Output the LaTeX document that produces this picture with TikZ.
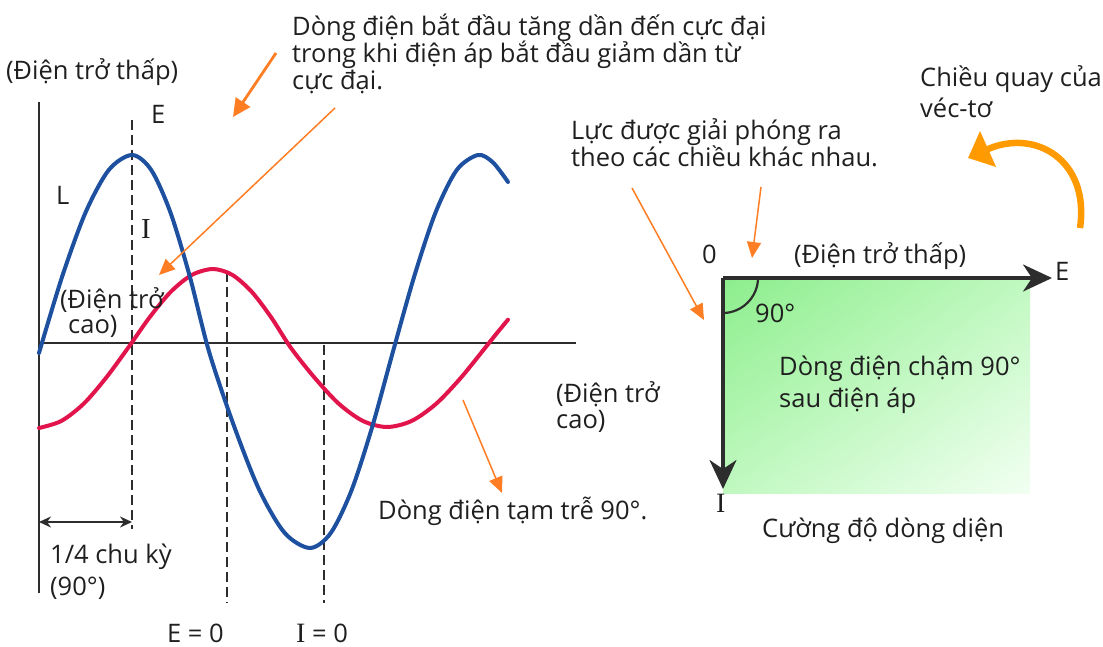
\documentclass[tikz,border=0pt]{standalone}
\usepackage{fontspec}
\setmainfont{Open Sans}
\newfontfamily\serifI{Liberation Serif}
\usetikzlibrary{arrows.meta,shadings}
\definecolor{curveblue}{RGB}{30,80,160}
\definecolor{curvered}{RGB}{225,20,75}
\definecolor{callout}{RGB}{255,125,35}
\definecolor{rotarrow}{RGB}{255,155,0}
\definecolor{axisgray}{RGB}{45,45,45}
\definecolor{greenA}{RGB}{140,238,140}
\definecolor{greenB}{RGB}{192,248,192}
\definecolor{greenC}{RGB}{242,255,242}
\begin{document}
\begin{tikzpicture}[x=1pt,y=-1pt,
  font=\fontsize{25.5}{30}\selectfont,
  lbl/.style={inner sep=0pt, anchor=base west, text=black!88},
  axisline/.style={line width=2.4pt, draw=axisgray},
  guide/.style={line width=2.4pt, draw=axisgray, dash pattern=on 10pt off 5pt},
  wave/.style={line width=4pt, line join=round, line cap=round},
  thinarrow/.style={draw=callout, fill=callout, line width=1.5pt, -{Triangle[length=16pt,width=14pt]}},
  thickarrow/.style={draw=callout, fill=callout, line width=2.8pt, -{Triangle[length=18pt,width=17pt]}},
  vec/.style={line width=3.2pt, draw=axisgray, -{Stealth[length=29pt,width=27pt,inset=9pt]}},
  span/.style={line width=2.2pt, draw=axisgray, {Stealth[length=12pt,width=11pt]}-{Stealth[length=12pt,width=11pt]}},
  rot/.style={draw=rotarrow, line width=6.5pt, -{Triangle[length=22pt,width=38pt]}}
]
\useasboundingbox (0,0) rectangle (1103,647);

% ---------------- left graph ----------------
\coordinate (vtop) at (39,102);
\coordinate (vbot) at (39,593);
\coordinate (hleft) at (39,343);
\coordinate (hright) at (576,343);
\draw[axisline] (vtop) -- (vbot);
\draw[axisline] (hleft) -- (hright);

\coordinate (g1t) at (132,120);  \coordinate (g1b) at (132,529);
\coordinate (g2t) at (227,272);  \coordinate (g2b) at (227,603);
\coordinate (g3t) at (324,345);  \coordinate (g3b) at (324,603);
\draw[guide] (g1t) -- (g1b);
\draw[guide] (g2t) -- (g2b);
\draw[guide] (g3t) -- (g3b);

% red (current)
\draw[wave, curvered] plot[smooth] coordinates {
 (39,428) (61.25,421) (83.5,403.9) (105.75,378.2) (128,348)
 (149.25,317.8) (170.5,292.1) (191.75,275) (213,269)
 (232.5,275) (252,292.1) (271.5,317.8) (291,348)
 (315,378.2) (339,403.9) (363,421) (387,427)
 (411.5,421) (436,403.9) (460.5,378.2) (485,348)
 (496.5,333.6) (508,319.7)};
% blue (voltage)
\draw[wave, curveblue] plot[smooth] coordinates {
 (39,353) (62.25,276.3) (85.5,212.6) (108.75,170) (132,155)
 (151.25,170) (170.5,212.6) (189.75,276.3) (209,351.5)
 (234.25,426.7) (259.5,490.4) (284.75,533) (310,548)
 (330.75,533) (351.5,490.4) (372.25,426.7) (393,351.5)
 (414.25,276.3) (435.5,212.6) (456.75,170) (478,155)
 (493,162.5) (508,182)};

\coordinate (qa) at (39,522);
\coordinate (qb) at (132,522);
\draw[span] (qa) -- (qb);

\node[lbl] (lowtop) at (6,80) {(Điện trở thấp)};
\node[lbl] (Elbl) at (151,124) {E};
\node[lbl] (Llbl) at (56,205) {L};
\node[lbl] (Ilbl) at (141,239) {\serifI\fontsize{29}{30}\selectfont I};
\node[lbl] (hiL1) at (60,308) {(Điện trở};
\node[lbl] (hiL2) at (68,333) {cao)};
\node[lbl] (hiR1) at (556,402) {(Điện trở};
\node[lbl] (hiR2) at (556,428) {cao)};
\node[lbl] (lag) at (378,519) {Dòng điện tạm trễ 90°.};
\node[lbl] (qt1) at (50,563) {1/4 chu kỳ};
\node[lbl] (qt2) at (50,595) {(90°)};
\node[lbl] (ez) at (167,642) {E = 0};
\node[lbl] (iz) at (296,642) {{\serifI\fontsize{28}{30}\selectfont I} = 0};

\node[lbl] (top1) at (292,36) {Dòng điện bắt đầu tăng dần đến cực đại};
\node[lbl] (top2) at (292,63) {trong khi điện áp bắt đầu giảm dần từ};
\node[lbl] (top3) at (292,90) {cực đại.};

\coordinate (a1s) at (276,53);  \coordinate (a1e) at (233,117);
\coordinate (a2s) at (335,108); \coordinate (a2e) at (159,275);
\coordinate (a3s) at (463,400); \coordinate (a3e) at (502,493);
\draw[thickarrow] (a1s) -- (a1e);
\draw[thinarrow] (a2s) -- (a2e);
\draw[thinarrow] (a3s) -- (a3e);

% ---------------- right diagram ----------------
\shade[upper left=greenA, upper right=greenB, lower left=greenB, lower right=greenC]
  (723,278) rectangle (1030,493);
\coordinate (O) at (723,278);
\coordinate (Etip) at (1052,278);
\coordinate (Itip) at (723,489);
\coordinate (arcA) at (723,313);
\coordinate (arcB) at (758,278);
\draw[line width=2.2pt, draw=axisgray] (arcA) .. controls (742,313) and (758,297) .. (arcB);
\draw[vec] (O) -- (Etip);
\draw[vec] (O) -- (Itip);

\node[lbl] (zero) at (702,263) {0};
\node[lbl] (lowR) at (794,263) {(Điện trở thấp)};
\node[lbl] (Evec) at (1055,280) {E};
\node[lbl] (deg) at (755,322) {90°};
\node[lbl] (slow1) at (779,375) {Dòng điện chậm 90°};
\node[lbl] (slow2) at (779,407) {sau điện áp};
\node[lbl] (Ivec) at (716,512) {\serifI\fontsize{28}{30}\selectfont I};
\node[lbl] (curr) at (762,537) {Cường độ dòng diện};

\node[lbl] (force1) at (571,140) {Lực được giải phóng ra};
\node[lbl] (force2) at (571,167) {theo các chiều khác nhau.};
\node[lbl] (rot1) at (920,87) {Chiều quay của};
\node[lbl] (rot2) at (920,118) {véc-tơ};

\coordinate (a4s) at (632,188); \coordinate (a4e) at (704,320);
\coordinate (a5s) at (761,187); \coordinate (a5e) at (752,258);
\draw[thinarrow] (a4s) -- (a4e);
\draw[thinarrow] (a5s) -- (a5e);

\coordinate (r1) at (1080,228);
\coordinate (r2) at (968,158);
\draw[rot] (r1) .. controls (1090,160) and (1035,128) .. (r2);
\end{tikzpicture}
\end{document}
